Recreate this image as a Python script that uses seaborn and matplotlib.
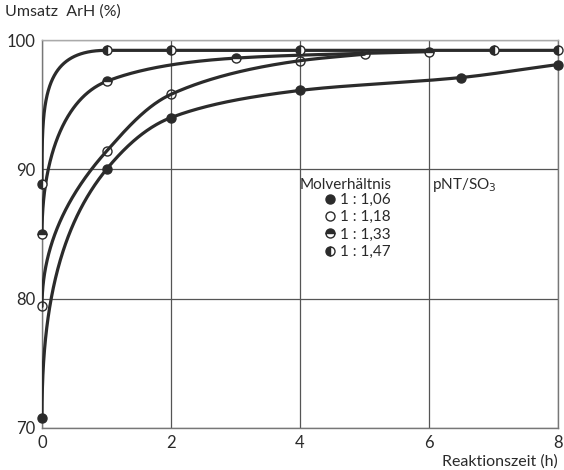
import numpy as np
import pandas as pd
import matplotlib
matplotlib.use("Agg")
import matplotlib.pyplot as plt
import seaborn as sns
from matplotlib.lines import Line2D

# ---- data ----
t_106 = [0, 1, 2, 4, 6.5, 8]
u_106 = [70.8, 90.0, 94.0, 96.1, 97.1, 98.1]
t_118 = [0, 1, 2, 4, 5]
u_118 = [79.4, 91.4, 95.8, 98.4, 98.9]
t_133 = [0, 1, 3, 6]
u_133 = [85.0, 96.8, 98.6, 99.1]
t_147 = [0, 1, 2, 4, 7, 8]
u_147 = [88.9, 99.2, 99.2, 99.2, 99.2, 99.2]

labels = ["1 : 1,06", "1 : 1,18", "1 : 1,33", "1 : 1,47"]
fills = ["full", "none", "top", "left"]
x_ticks = [0, 2, 4, 6, 8]
y_ticks = [70, 80, 90, 100]

# curve-drawing shape (style only): exponent of the warped time axis per series
warp = [0.47, 0.5, 0.5, 0.32]

sns.set_theme(style="white")
plt.rcParams["font.family"] = ["Lato", "DejaVu Sans"]

def smooth(t, u, p=0.3, n=500):
    """Monotone cubic Hermite (Fritsch-Carlson) in x**p space, for drawing the curve."""
    t = np.asarray(t, float); u = np.asarray(u, float)
    s = t ** p
    h = np.diff(s); d = np.diff(u) / h
    m = np.zeros_like(u)
    m[0] = d[0]
    m[-1] = d[-1]
    for i in range(1, len(u) - 1):
        if d[i - 1] * d[i] <= 0:
            m[i] = 0
        else:
            w1 = 2 * h[i] + h[i - 1]; w2 = h[i] + 2 * h[i - 1]
            m[i] = (w1 + w2) / (w1 / d[i - 1] + w2 / d[i])
    if len(u) > 2:
        m0 = ((2 * h[0] + h[1]) * d[0] - h[0] * d[1]) / (h[0] + h[1])
        if np.sign(m0) != np.sign(d[0]):
            m0 = 0
        elif abs(m0) > 3 * abs(d[0]):
            m0 = 3 * d[0]
        m[0] = m0
    ss = np.linspace(s[0], s[-1], n)
    idx = np.clip(np.searchsorted(s, ss) - 1, 0, len(s) - 2)
    hh = h[idx]; tt = (ss - s[idx]) / hh
    h00 = 2 * tt**3 - 3 * tt**2 + 1; h10 = tt**3 - 2 * tt**2 + tt
    h01 = -2 * tt**3 + 3 * tt**2; h11 = tt**3 - tt**2
    y = h00 * u[idx] + h10 * hh * m[idx] + h01 * u[idx + 1] + h11 * hh * m[idx + 1]
    return ss ** (1 / p), y

fig = plt.figure(figsize=(5.64, 4.70), dpi=100)
ax = fig.add_axes([42 / 564, 1 - 428 / 470, (558 - 42) / 564, (428 - 40) / 470])

series = [(t_106, u_106), (t_118, u_118), (t_133, u_133), (t_147, u_147)]
ink = "#2b2b2b"
txtc = "#2a2a2a"
handles = []
for (t, u), lab, fs, p in zip(series, labels, fills, warp):
    xs, ys = smooth(t, u, p)
    df_line = pd.DataFrame({"t": xs, "u": ys})
    sns.lineplot(data=df_line, x="t", y="u", ax=ax, color=ink, lw=2.3,
                 estimator=None, sort=False, zorder=3)
    df_pts = pd.DataFrame({"t": t, "u": u})
    sns.lineplot(data=df_pts, x="t", y="u", ax=ax, linestyle="", marker="o",
                 markersize=6.5, fillstyle=fs, markerfacecolor=ink,
                 markerfacecoloralt="white", markeredgecolor=ink,
                 markeredgewidth=1.0, estimator=None, zorder=4, clip_on=False)
    handles.append(Line2D([], [], linestyle="", marker="o", markersize=6.5,
                          fillstyle=fs, markerfacecolor=ink,
                          markerfacecoloralt="white", markeredgecolor=ink,
                          markeredgewidth=1.0, label=lab))

ax.set_xlim(0, 8)
ax.set_ylim(70, 100)
ax.set_xticks(x_ticks)
ax.set_yticks(y_ticks)
ax.set_xticklabels([str(v) for v in x_ticks])
ax.set_yticklabels([str(v) for v in y_ticks])
ax.tick_params(length=0, labelsize=12, colors=txtc, pad=5)
ax.set_xlabel(""); ax.set_ylabel("")
ax.grid(True, color="#555555", lw=0.9)
ax.set_axisbelow(True)
for sp in ax.spines.values():
    sp.set_color("#777777"); sp.set_linewidth(1.0)
ax.spines["top"].set_color("#aaaaaa")

fig.text(5 / 564, 1 - 12 / 470, "Umsatz  ArH (%)", fontsize=11.5, color=txtc,
         va="center", ha="left")
fig.text(558 / 564, 1 - 462 / 470, "Reaktionszeit (h)", fontsize=11.5,
         color=txtc, va="center", ha="right")

leg = ax.legend(handles=handles, loc="upper left",
                bbox_to_anchor=((322 - 42) / 516, (428 - 193) / 388),
                frameon=False, fontsize=11, handletextpad=0.15,
                labelspacing=0.22, borderpad=0, borderaxespad=0,
                handlelength=1.0)
for txt in leg.get_texts():
    txt.set_color(txtc)
ax.text(4.0, 88.8, "Molverhältnis", fontsize=11, color=txtc, va="center",
        ha="left")
ax.text(6.05, 88.8, "pNT/SO$_3$", fontsize=11, color=txtc, va="center",
        ha="left")

fig.savefig("out.png", dpi=100, facecolor="white")
